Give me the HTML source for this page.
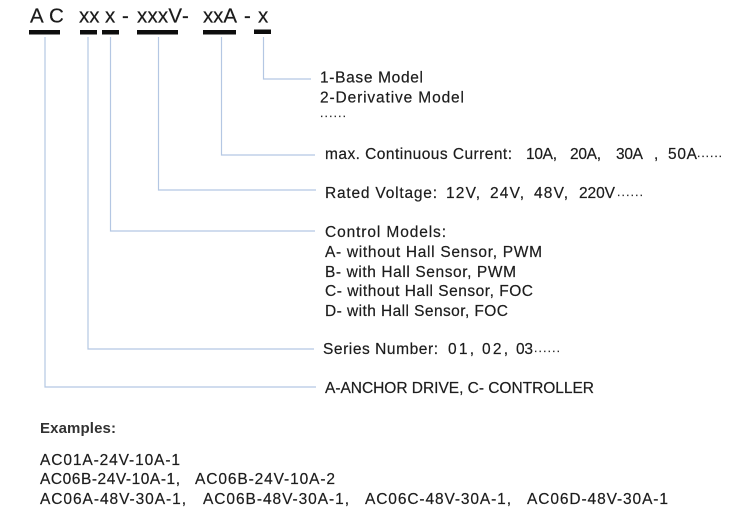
<!DOCTYPE html>
<html>
<head>
<meta charset="utf-8">
<style>
html,body{margin:0;padding:0;background:#fff;width:750px;height:516px;overflow:hidden}
svg{display:block}
text{font-family:"Liberation Sans","Noto Sans CJK SC",sans-serif;font-size:15.5px;fill:#1c1c1c;stroke:#1c1c1c;stroke-width:.2}
.h{font-size:20.5px;fill:#1a1a1a}
.d{font-size:12px}
</style>
</head>
<body>
<svg width="750" height="516" viewBox="0 0 750 516" xmlns="http://www.w3.org/2000/svg">
<defs><filter id="b" x="-5%" y="-5%" width="110%" height="110%"><feGaussianBlur stdDeviation="0.3"/></filter></defs>
<g filter="url(#b)">
<g fill="none" stroke="#b4c7e3" stroke-width="1.2">
<path d="M45 37V387H316"/>
<path d="M88 37V349H314"/>
<path d="M110.5 37V231H315"/>
<path d="M158.5 37V190H316"/>
<path d="M221.5 37V155H315"/>
<path d="M263.5 37V79H311"/>
</g>
<g fill="#111">
<rect x="29" y="30" width="31" height="4.5"/>
<rect x="80" y="30" width="17" height="4.5"/>
<rect x="102" y="30" width="17" height="4.5"/>
<rect x="137" y="30" width="41" height="4.5"/>
<rect x="203" y="30" width="33" height="4.5"/>
<rect x="254" y="29.5" width="17" height="4.5"/>
</g>
<text class="h" x="30" y="22.5">A</text>
<text class="h" x="49" y="22.5">C</text>
<text class="h" x="79" y="22.5">xx</text>
<text class="h" x="105" y="22.5">x</text>
<text class="h" x="122" y="22.5">-</text>
<text class="h" x="137" y="22.5" textLength="45">xxxV</text>
<text class="h" x="182" y="22.5">-</text>
<text class="h" x="203" y="22.5" textLength="34">xxA</text>
<text class="h" x="244" y="22.5">-</text>
<text class="h" x="258" y="22.5">x</text>

<text x="320" y="82.5" textLength="103">1-Base Model</text>
<text x="320" y="102.5" textLength="144">2-Derivative Model</text>
<text class="d" x="320" y="117" textLength="26">......</text>

<text x="325" y="159" textLength="187">max. Continuous Current:</text>
<text x="526" y="159" textLength="31">10A,</text>
<text x="570" y="159" textLength="31">20A,</text>
<text x="616" y="159" textLength="27">30A</text>
<text x="654" y="159">,</text>
<text x="668" y="159" textLength="29">50A</text>
<text class="d" x="697" y="157" textLength="25">......</text>

<text x="325" y="198" textLength="112">Rated Voltage:</text>
<text x="446" y="198" textLength="34">12V,</text>
<text x="490" y="198" textLength="34">24V,</text>
<text x="534" y="198" textLength="34">48V,</text>
<text x="579" y="198" textLength="36">220V</text>
<text class="d" x="617" y="196" textLength="26">......</text>

<text x="325" y="237" textLength="121">Control Models:</text>
<text x="325" y="257" textLength="217">A- without Hall Sensor, PWM</text>
<text x="325" y="277" textLength="191">B- with Hall Sensor, PWM</text>
<text x="325" y="296" textLength="208">C- without Hall Sensor, FOC</text>
<text x="325" y="316" textLength="183">D- with Hall Sensor, FOC</text>

<text x="323" y="354" textLength="115">Series Number:</text>
<text x="448" y="354" textLength="26">01,</text>
<text x="482" y="354" textLength="26">02,</text>
<text x="516" y="354" textLength="17">03</text>
<text class="d" x="534" y="352" textLength="26">......</text>

<text x="325" y="393" textLength="269">A-ANCHOR DRIVE, C- CONTROLLER</text>

<text x="40" y="433" textLength="76" style="font-size:15px;font-weight:bold;fill:#333;stroke:none">Examples:</text>
<text x="40" y="465" textLength="140">AC01A-24V-10A-1</text>
<text x="40" y="484" textLength="140">AC06B-24V-10A-1,</text>
<text x="195" y="484" textLength="140">AC06B-24V-10A-2</text>
<text x="40" y="504" textLength="146">AC06A-48V-30A-1,</text>
<text x="203" y="504" textLength="146">AC06B-48V-30A-1,</text>
<text x="365" y="504" textLength="146">AC06C-48V-30A-1,</text>
<text x="527" y="504" textLength="141">AC06D-48V-30A-1</text>
</g>
</svg>
</body>
</html>
